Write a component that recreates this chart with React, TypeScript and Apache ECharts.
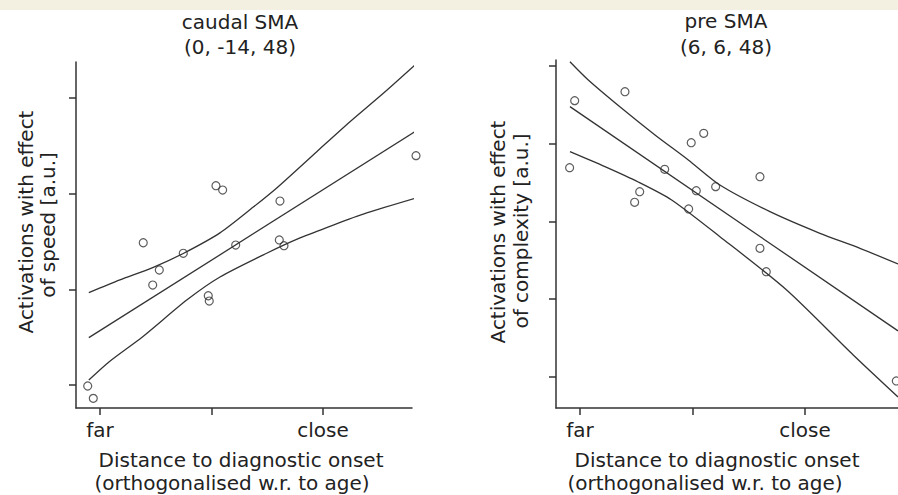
import React, { useEffect, useRef } from "react";
import * as echarts from "echarts";

// ---- tick definitions ----
const xTickValues = [0, 1, 2];
const xLabelValues = [0, 2];
const xLabelNames: Record<number, string> = { 0: "far", 2: "close" };
const speedYTicks = [0, 1, 2, 3];
const complexityYTicks = [0, 1, 2, 3, 4];

// ---- titles / axis names ----
const titles = [
  ["caudal SMA", "(0, -14, 48)"],
  ["pre SMA", "(6, 6, 48)"],
];
const xNameLines = ["Distance to diagnostic onset", "(orthogonalised w.r. to age)"];
const speedYName = ["Activations with effect", "of speed [a.u.]"];
const complexityYName = ["Activations with effect", "of complexity [a.u.]"];

// ---- caudal SMA (speed) ----
const speedPoints = [
  [0.388, 1.487], [1.04, 2.083], [1.1, 2.038], [1.614, 1.923], [1.217, 1.463],
  [1.608, 1.516], [1.65, 1.456], [2.834, 2.397], [0.747, 1.377], [0.532, 1.202],
  [0.473, 1.045], [0.971, 0.933], [0.98, 0.878], [-0.11, -0.01], [-0.06, -0.139],
];
const speedFit = [[-0.1, 0.495], [2.825, 2.648]];
const speedUpper = [
  [-0.1, 0.965], [0.179, 1.098], [0.478, 1.23], [0.747, 1.375], [1.076, 1.59],
  [1.375, 1.86], [1.585, 2.06], [1.944, 2.439], [2.242, 2.752], [2.541, 3.049], [2.825, 3.345],
];
const speedLower = [
  [-0.1, 0.052], [0.083, 0.244], [0.383, 0.505], [0.778, 0.888], [1.076, 1.129],
  [1.495, 1.377], [1.794, 1.537], [2.092, 1.672], [2.392, 1.798], [2.825, 1.951],
];

// ---- pre SMA (complexity) ----
const complexityPoints = [
  [-0.047, 3.554], [0.4, 3.669], [-0.092, 2.692], [0.989, 3.013], [1.1, 3.134],
  [0.753, 2.671], [0.531, 2.383], [0.486, 2.247], [1.034, 2.396], [1.206, 2.448],
  [0.966, 2.161], [1.6, 2.576], [1.6, 1.655], [1.656, 1.354], [2.812, -0.051],
];
const complexityFit = [[-0.089, 3.477], [2.827, 0.593]];
const complexityUpper = [
  [-0.089, 4.055], [0.074, 3.82], [0.371, 3.456], [0.667, 3.113], [0.963, 2.791],
  [1.244, 2.469], [1.689, 2.126], [2.133, 1.848], [2.489, 1.655], [2.827, 1.453],
];
const complexityLower = [
  [-0.089, 2.898], [0.222, 2.705], [0.518, 2.508], [0.815, 2.277], [1.244, 1.805],
  [1.837, 1.119], [2.429, 0.283], [2.827, -0.257],
];

const FONT = "'DejaVu Sans', Verdana, sans-serif";
const INK = "#222";

function xAxisFor(gridIndex: number, min: number, max: number) {
  return {
    type: "value",
    gridIndex,
    min,
    max,
    splitLine: { show: false },
    axisLine: { show: true, onZero: false, lineStyle: { color: "#333", width: 1.5 } },
    axisTick: { show: true, customValues: xTickValues, length: 7, lineStyle: { color: "#333", width: 1.5 } },
    axisLabel: {
      show: true,
      customValues: xLabelValues,
      formatter: (v: number) => xLabelNames[Math.round(v)] ?? "",
      fontFamily: FONT,
      fontSize: 20,
      color: INK,
      margin: 12,
    },
  };
}

function yAxisFor(gridIndex: number, min: number, max: number, ticks: number[]) {
  return {
    type: "value",
    gridIndex,
    min,
    max,
    splitLine: { show: false },
    axisLine: { show: true, onZero: false, lineStyle: { color: "#333", width: 1.5 } },
    axisTick: { show: true, customValues: ticks, length: 7, lineStyle: { color: "#333", width: 1.5 } },
    axisLabel: { show: false },
  };
}

function lineSeries(idx: number, data: number[][], smooth: boolean) {
  return {
    type: "line",
    xAxisIndex: idx,
    yAxisIndex: idx,
    data,
    showSymbol: false,
    symbol: "none",
    smooth: smooth ? 0.25 : false,
    clip: false,
    lineStyle: { color: "#333", width: 1.3 },
    silent: true,
    z: 2,
  };
}

function scatterSeries(idx: number, data: number[][]) {
  return {
    type: "scatter",
    xAxisIndex: idx,
    yAxisIndex: idx,
    data,
    symbol: "circle",
    symbolSize: 8,
    clip: false,
    itemStyle: { color: "rgba(255,255,255,0)", borderColor: "#333", borderWidth: 1.2 },
    z: 3,
  };
}

function text(x: number, y: number, t: string, rotation = 0) {
  return {
    type: "text",
    x,
    y,
    rotation,
    style: {
      text: t,
      fill: INK,
      font: `20px ${FONT}`,
      fontFamily: FONT,
      fontSize: 20,
      textAlign: "center",
      textVerticalAlign: "middle",
      verticalAlign: "middle",
    },
  };
}

export default function App() {
  const ref = useRef<HTMLDivElement>(null);
  useEffect(() => {
    if (!ref.current) return;
    const chart = echarts.init(ref.current, null, { renderer: "svg" });
    chart.setOption({
      animation: false,
      backgroundColor: "#ffffff",
      grid: [
        { left: 76, top: 62, width: 336, height: 346 },
        { left: 556, top: 60, width: 342, height: 348 },
      ],
      xAxis: [xAxisFor(0, -0.215, 2.798), xAxisFor(1, -0.213, 2.827)],
      yAxis: [
        yAxisFor(0, -0.24, 3.376, speedYTicks),
        yAxisFor(1, -0.399, 4.077, complexityYTicks),
      ],
      series: [
        lineSeries(0, speedUpper, true),
        lineSeries(0, speedFit, false),
        lineSeries(0, speedLower, true),
        scatterSeries(0, speedPoints),
        lineSeries(1, complexityUpper, true),
        lineSeries(1, complexityFit, false),
        lineSeries(1, complexityLower, true),
        scatterSeries(1, complexityPoints),
      ],
      graphic: [
        { type: "rect", shape: { x: 0, y: 0, width: 898, height: 10 }, style: { fill: "#f4f0e1" }, silent: true },
        text(240, 21.5, titles[0][0]),
        text(240, 46.5, titles[0][1]),
        text(726, 20.5, titles[1][0]),
        text(726, 46.5, titles[1][1]),
        text(241, 460, xNameLines[0]),
        text(232, 483, xNameLines[1]),
        text(717, 460, xNameLines[0]),
        text(705, 483, xNameLines[1]),
        text(25.5, 222, speedYName[0], Math.PI / 2),
        text(48, 225, speedYName[1], Math.PI / 2),
        text(498, 232, complexityYName[0], Math.PI / 2),
        text(521, 231, complexityYName[1], Math.PI / 2),
      ],
    });
    return () => chart.dispose();
  }, []);
  return (
    <div
      ref={ref}
      style={{ position: "absolute", left: 0, top: 0, width: 898, height: 495, background: "#fff" }}
    />
  );
}
